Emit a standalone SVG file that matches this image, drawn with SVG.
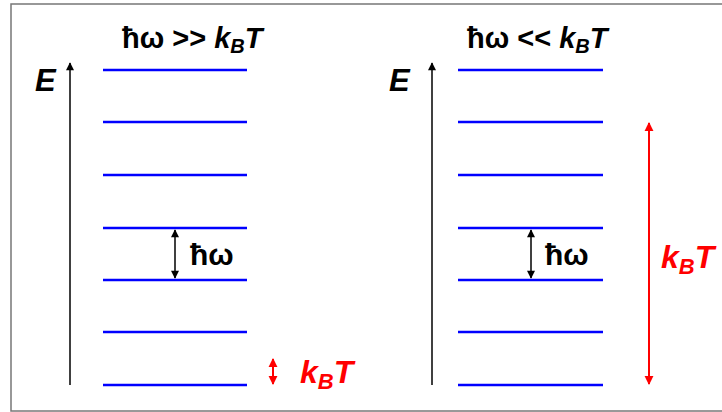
<svg xmlns="http://www.w3.org/2000/svg" width="722" height="412" viewBox="0 0 722 412">
<style>
.lvl{stroke:#0000ff;stroke-width:2.5;fill:none}
.ax{stroke:#000;stroke-width:1.5;fill:none}
.red{stroke:#ff0000;stroke-width:2;fill:none}
.t{font-family:"Liberation Sans",Arial,sans-serif;font-weight:bold;fill:#000}
.tt{font-size:29px}
.lb{font-size:30px}
.kb{font-size:32px}
.it{font-style:italic}
.r{fill:#ff0000}
</style>
<defs>
<marker id="ah" viewBox="0 0 10 10" refX="9" refY="5" markerWidth="10" markerHeight="8" markerUnits="userSpaceOnUse" orient="auto-start-reverse"><path d="M0,0 L10,5 L0,10 z" fill="#000"/></marker>
<marker id="ahr" viewBox="0 0 10 10" refX="9" refY="5" markerWidth="9" markerHeight="10" markerUnits="userSpaceOnUse" orient="auto-start-reverse"><path d="M0,0 L10,5 L0,10 z" fill="#ff0000"/></marker>
</defs>
<rect x="0" y="0" width="722" height="412" fill="#fff"/>
<rect x="11" y="4" width="720" height="407" fill="none" stroke="#777" stroke-width="1.5"/>
<g id="left-panel">
<text class="t tt" x="122" y="48">ħω &gt;&gt; <tspan class="it">k</tspan><tspan class="it" font-size="20" dy="5">B</tspan><tspan class="it" dy="-5">T</tspan></text>
<text class="t it" font-size="31" x="35" y="91">E</text>
<line class="ax" x1="70" y1="385" x2="70" y2="63" marker-end="url(#ah)"/>
<line class="lvl" x1="103" y1="70" x2="247" y2="70"/>
<line class="lvl" x1="103" y1="122" x2="247" y2="122"/>
<line class="lvl" x1="103" y1="175" x2="247" y2="175"/>
<line class="lvl" x1="103" y1="228" x2="247" y2="228"/>
<line class="lvl" x1="103" y1="280" x2="247" y2="280"/>
<line class="lvl" x1="103" y1="332" x2="247" y2="332"/>
<line class="lvl" x1="103" y1="385" x2="247" y2="385"/>
<line class="ax" x1="175" y1="230" x2="175" y2="278" marker-start="url(#ah)" marker-end="url(#ah)"/>
<text class="t lb" x="190" y="265">ħω</text>
<line class="red" x1="273" y1="359" x2="273" y2="384" marker-start="url(#ahr)" marker-end="url(#ahr)"/>
<text class="t it r kb" x="300" y="383">k<tspan font-size="22" dy="6">B</tspan><tspan dy="-6">T</tspan></text>
</g>
<g id="right-panel">
<text class="t tt" x="467" y="48">ħω &lt;&lt; <tspan class="it">k</tspan><tspan class="it" font-size="20" dy="5">B</tspan><tspan class="it" dy="-5">T</tspan></text>
<text class="t it" font-size="31" x="389" y="91">E</text>
<line class="ax" x1="432" y1="385" x2="432" y2="63" marker-end="url(#ah)"/>
<line class="lvl" x1="458" y1="70" x2="603" y2="70"/>
<line class="lvl" x1="458" y1="122" x2="603" y2="122"/>
<line class="lvl" x1="458" y1="175" x2="603" y2="175"/>
<line class="lvl" x1="458" y1="228" x2="603" y2="228"/>
<line class="lvl" x1="458" y1="280" x2="603" y2="280"/>
<line class="lvl" x1="458" y1="332" x2="603" y2="332"/>
<line class="lvl" x1="458" y1="385" x2="603" y2="385"/>
<line class="ax" x1="531" y1="230" x2="531" y2="278" marker-start="url(#ah)" marker-end="url(#ah)"/>
<text class="t lb" x="545" y="265">ħω</text>
<line class="red" x1="649" y1="123" x2="649" y2="384" marker-start="url(#ahr)" marker-end="url(#ahr)"/>
<text class="t it r kb" x="661" y="268">k<tspan font-size="22" dy="6">B</tspan><tspan dy="-6">T</tspan></text>
</g>
</svg>
